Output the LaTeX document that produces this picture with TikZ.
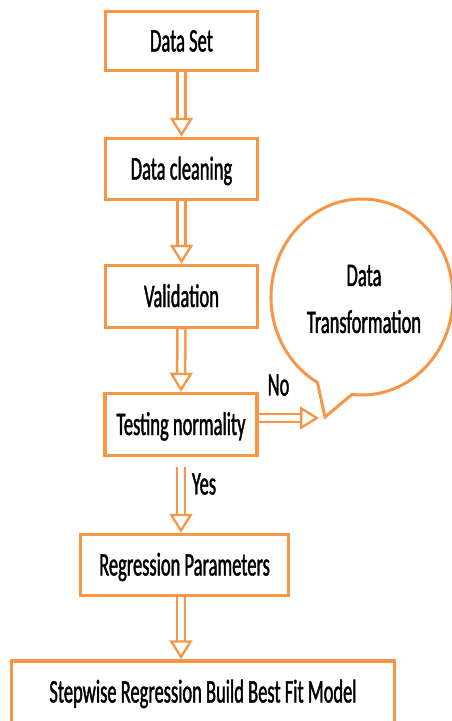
\documentclass[tikz,border=0pt]{standalone}
\usepackage{fontspec}
\setmainfont{Carlito}[FakeStretch=0.56, FakeBold=1.2]
\usetikzlibrary{arrows.meta,calc}
\definecolor{boxorange}{RGB}{247,150,70}
\begin{document}
\begin{tikzpicture}[x=1pt,y=-1pt,
  box/.style={draw=boxorange, line width=3.5pt, fill=white, inner sep=0pt,
    text height=21pt, text depth=0pt, font=\fontsize{33}{40}\selectfont},
  harrow/.style={preaction={draw=boxorange, line width=10.5pt, -, shorten >=18pt, shorten <=#1},
    draw=white, line width=5.5pt, shorten <=#1,
    -{Triangle[length=19pt, width=23pt, line width=2.3pt, color=boxorange, fill=white]}},
  harrow/.default=0pt,
  lbl/.style={inner sep=0pt, font=\fontsize{33}{40}\selectfont},
  bubble/.style={draw=boxorange, line width=3pt, fill=white}]
\useasboundingbox (0,0) rectangle (452,721);

\node[box, minimum width=152pt, minimum height=59pt] (b1) at (181.5,41) {Data Set};
\node[box, minimum width=152pt, minimum height=61pt] (b2) at (181.5,169) {Data cleaning};
\node[box, minimum width=152pt, minimum height=62pt] (b3) at (181.5,296.5) {Validation};
\node[box, minimum width=152pt, minimum height=62pt] (b4) at (181,424.5) {Testing normality};
\node[box, minimum width=208pt, minimum height=61pt] (b5) at (184.5,565) {Regression Parameters};
\node[box, minimum width=383pt, minimum height=62pt] (b6) at (203,692) {Stepwise Regression Build Best Fit Model};

% speech bubble
\draw[bubble] (352,394.4) arc[start angle=96.3, end angle=-240.7, x radius=91, y radius=98] -- (325,417) -- cycle;
\node[lbl, align=center, font=\fontsize{33}{47}\selectfont] (dt) at (364,299) {Data\\Transformation};

% connectors
\draw[harrow] (b1.south) -- (b2.north);
\draw[harrow] (b2.south) -- (b3.north);
\draw[harrow] (b3.south) -- (b4.north);
\draw[harrow=10pt] (b4.south) -- (b5.north -| b4.south);
\draw[harrow] (b5.south -| b4.south) -- (b6.north -| b4.south);
\coordinate (nostart) at ($(b4.east)+(0,-6.5)$);
\coordinate (notip) at (319,418);
\draw[harrow] (nostart) -- (notip);

\node[lbl] (no) at (278.5,385) {No};
\node[lbl] (yes) at (204,484) {Yes};
\end{tikzpicture}
\end{document}
